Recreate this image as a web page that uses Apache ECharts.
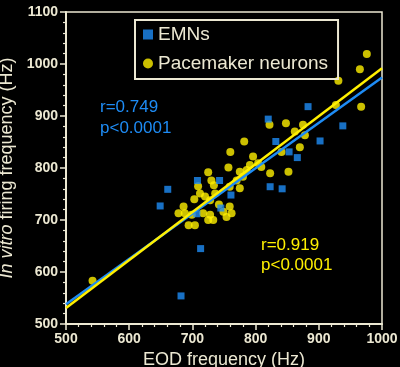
<!DOCTYPE html>
<html><head><meta charset="utf-8">
<script src="https://cdn.jsdelivr.net/npm/echarts@6/dist/echarts.min.js"></script>
<style>html,body{margin:0;padding:0;background:#000;} #c{width:400px;height:367px;}</style>
</head><body><div id="c"></div>
<script>
// EMNs (blue squares): [EOD frequency, in vitro firing frequency]
const emnPoints = [
  [649,727],[661,759],[682,554],[713,645],[708,776],[743,776],[745,723],
  [761,748],[707,712],[823,764],[842,760],[820,894],[883,918],[938,881],
  [832,851],[902,852],[853,831],[866,820]
];
// Pacemaker neurons (yellow circles)
const pacePoints = [
  [542,583],[678,713],[686,726],[688,713],[694,690],[704,690],[699,710],
  [703,740],[709,765],[712,751],[717,713],[720,745],[725,792],[730,776],
  [734,767],[728,738],[736,751],[728,710],[725,700],[733,700],[749,716],
  [754,706],[759,726],[762,713],[757,801],[760,831],[759,764],[775,761],
  [775,793],[780,783],[791,806],[796,822],[804,809],[782,851],[809,802],
  [823,790],[852,793],[841,831],[822,883],[848,886],[862,870],[875,883],
  [878,863],[870,840],[927,921],[931,968],[965,990],[976,1019],[967,918],
  [742,730],[770,776],[786,796]
];
// Regression lines (end points)
const emnFit = [[500,538],[1000,974]];
const paceFit = [[500,531],[1000,992]];
const xRange = [500, 1000];
const yRange = [500, 1100];
const tickStep = 100;
const statsEMN = ['r=0.749', 'p<0.0001'];
const statsPace = ['r=0.919', 'p<0.0001'];

const CREAM = '#ece8d2';
const BLUE = '#1e8cf5';
const YELLOW = '#fff000';
const FONT = '"Liberation Sans", Arial, Helvetica, sans-serif';

const chart = echarts.init(document.getElementById('c'));
const axisCommon = {
  axisLine: { show: true, lineStyle: { color: CREAM, width: 2 } },
  axisTick: { show: true, inside: false, length: 6, lineStyle: { color: CREAM, width: 1.5 } },
  minorTick: { show: true, splitNumber: 5, length: 3, lineStyle: { color: CREAM, width: 1.2 } },
  axisLabel: { color: CREAM, fontSize: 14, fontWeight: 'bold', margin: 8, fontFamily: FONT, formatter: v => String(v) },
  splitLine: { show: false }
};
chart.setOption({
  backgroundColor: '#000',
  animation: false,
  textStyle: { fontFamily: FONT },
  grid: { left: 66, right: 18, top: 12, bottom: 43, show: true, borderColor: CREAM, borderWidth: 1.5, outerBoundsMode: 'none', containLabel: false },
  legend: {
    orient: 'vertical', left: 135, top: 20,
    data: ['EMNs', 'Pacemaker neurons'],
    itemWidth: 10, itemHeight: 10, itemGap: 10,
    padding: [5, 10, 6, 8],
    borderColor: CREAM, borderWidth: 2,
    textStyle: { color: CREAM, fontSize: 19, fontFamily: FONT }
  },
  xAxis: Object.assign({
    type: 'value', min: xRange[0], max: xRange[1], interval: tickStep,
    name: 'EOD frequency (Hz)', nameLocation: 'middle', nameGap: 22,
    nameTextStyle: { color: CREAM, fontSize: 18, fontFamily: FONT }
  }, axisCommon),
  yAxis: Object.assign({
    type: 'value', min: yRange[0], max: yRange[1], interval: tickStep,
    name: '{i|In vitro} firing frequency (Hz)', nameLocation: 'middle', nameGap: 34, nameRotate: 90,
    nameTextStyle: { color: CREAM, fontSize: 18, fontFamily: FONT, rich: { i: { fontStyle: 'italic', color: CREAM, fontSize: 18, fontFamily: FONT } } }
  }, axisCommon),
  series: [
    { name: 'Pacemaker neurons', type: 'scatter', symbol: 'circle', symbolSize: 8,
      itemStyle: { color: YELLOW }, data: pacePoints, z: 2 },
    { name: 'EMNs', type: 'scatter', symbol: 'rect', symbolSize: 7,
      itemStyle: { color: BLUE }, data: emnPoints, z: 3 },
    { name: 'fitEMN', type: 'line', data: emnFit, symbol: 'none', silent: true,
      lineStyle: { color: BLUE, width: 2.5 }, z: 4 },
    { name: 'fitPace', type: 'line', data: paceFit, symbol: 'none', silent: true,
      lineStyle: { color: YELLOW, width: 2.5 }, z: 5 }
  ],
  graphic: [
    { type: 'text', left: 100, top: 97, style: { text: statsEMN.join('\n'), fill: BLUE, font: '17px ' + FONT, lineHeight: 21 } },
    { type: 'text', left: 261, top: 235, style: { text: statsPace.join('\n'), fill: YELLOW, font: '17px ' + FONT, lineHeight: 20 } }
  ]
});
</script></body></html>
